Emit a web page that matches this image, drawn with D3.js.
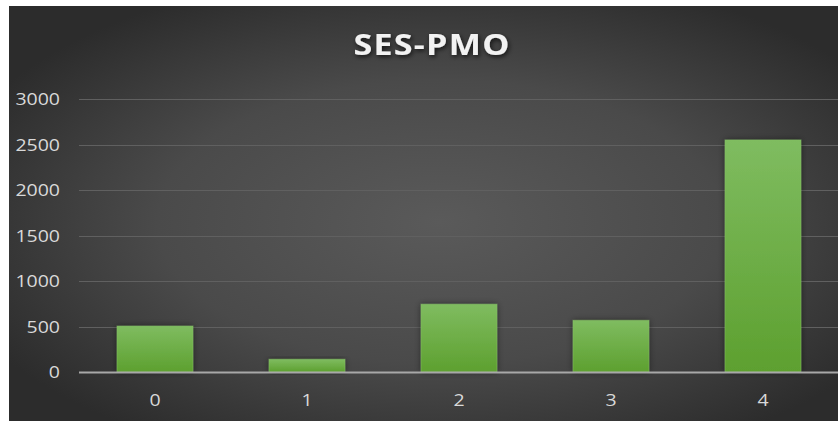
<!DOCTYPE html>
<html>
<head>
<meta charset="utf-8">
<script src="https://cdn.jsdelivr.net/npm/d3@7/dist/d3.min.js"></script>
<style>
  html, body { margin: 0; padding: 0; background: #ffffff; }
  svg { display: block; }
</style>
</head>
<body>
<svg id="chart" width="838" height="423"></svg>
<script>
// SES-PMO counts per category
const categories = ["0", "1", "2", "3", "4"];
const counts = [505, 140, 745, 568, 2550];
const yTicks = [0, 500, 1000, 1500, 2000, 2500, 3000];
const chartTitle = "SES-PMO";

const W = 838, H = 423;
const frame = { x: 9, y: 6, w: W - 9, h: H - 8 };
const plot = { left: 79, right: 839, top: 99, bottom: 372 };
const stretch = 1.22; // horizontal stretch of the lettering

const svg = d3.select("#chart");
const defs = svg.append("defs");

const bg = defs.append("radialGradient").attr("id", "bg")
  .attr("cx", "52%").attr("cy", "52%").attr("r", "62%");
bg.append("stop").attr("offset", "0%").attr("stop-color", "#5a5a5a");
bg.append("stop").attr("offset", "55%").attr("stop-color", "#4a4a4a");
bg.append("stop").attr("offset", "100%").attr("stop-color", "#2c2c2c");

const barFill = defs.append("linearGradient").attr("id", "barFill")
  .attr("x1", 0).attr("y1", 0).attr("x2", 0).attr("y2", 1);
barFill.append("stop").attr("offset", "0%").attr("stop-color", "#7fbc60");
barFill.append("stop").attr("offset", "100%").attr("stop-color", "#5da02f");

const barShadow = defs.append("filter").attr("id", "barShadow")
  .attr("x", "-20%").attr("y", "-20%").attr("width", "140%").attr("height", "140%");
barShadow.append("feDropShadow").attr("dx", 0).attr("dy", 0)
  .attr("stdDeviation", 3).attr("flood-color", "#000").attr("flood-opacity", 0.45);

const titleShadow = defs.append("filter").attr("id", "titleShadow")
  .attr("x", "-20%").attr("y", "-40%").attr("width", "140%").attr("height", "180%");
titleShadow.append("feDropShadow").attr("dx", 1).attr("dy", 2)
  .attr("stdDeviation", 2).attr("flood-color", "#000").attr("flood-opacity", 0.7);

// background panel
svg.append("rect")
  .attr("x", frame.x).attr("y", frame.y)
  .attr("width", frame.w).attr("height", frame.h)
  .attr("fill", "url(#bg)");

// scales
const x = d3.scaleBand().domain(categories)
  .range([plot.left, plot.right]).paddingInner(0.5).paddingOuter(0.25);
const y = d3.scaleLinear().domain([0, 3000]).range([plot.bottom, plot.top]);

// gridlines
svg.append("g")
  .selectAll("line")
  .data(yTicks.filter(d => d > 0))
  .join("line")
  .attr("x1", plot.left).attr("x2", W)
  .attr("y1", d => Math.round(y(d)) + 0.5).attr("y2", d => Math.round(y(d)) + 0.5)
  .attr("stroke", "#606060").attr("stroke-width", 1.2);

// bars
svg.append("g")
  .selectAll("rect")
  .data(counts)
  .join("rect")
  .attr("x", (d, i) => x(categories[i]))
  .attr("y", d => y(d))
  .attr("width", x.bandwidth())
  .attr("height", d => y(0) - y(d))
  .attr("fill", "url(#barFill)")
  .attr("stroke", "#86c265").attr("stroke-opacity", 0.6).attr("stroke-width", 0.8)
  .attr("filter", "url(#barShadow)");

// baseline
svg.append("line")
  .attr("x1", plot.left).attr("x2", W)
  .attr("y1", y(0) + 0.5).attr("y2", y(0) + 0.5)
  .attr("stroke", "#a8a8a8").attr("stroke-width", 2);

const tickFont = "'Open Sans', 'DejaVu Sans', sans-serif";

// y axis
const yAxis = svg.append("g")
  .attr("transform", `translate(${plot.left},0)`)
  .call(d3.axisLeft(y).tickValues(yTicks).tickFormat(d3.format("d")).tickSize(0).tickPadding(0));
yAxis.select(".domain").remove();
yAxis.selectAll("text")
  .attr("x", 0).attr("dy", "0.36em")
  .attr("transform", `translate(-19,0) scale(${stretch},1)`)
  .attr("fill", "#d9d9d9")
  .style("font-family", tickFont).style("font-size", "16px");

// x axis
const xAxis = svg.append("g")
  .attr("transform", `translate(0,${plot.bottom})`)
  .call(d3.axisBottom(x).tickSize(0).tickPadding(0));
xAxis.select(".domain").remove();
xAxis.selectAll("text")
  .attr("y", 0).attr("dy", 0)
  .attr("transform", `translate(0,34) scale(${stretch},1)`)
  .attr("fill", "#d9d9d9")
  .style("font-family", tickFont).style("font-size", "16px");

// title
svg.append("text")
  .attr("transform", `translate(432,55) scale(${stretch},1)`)
  .attr("text-anchor", "middle")
  .attr("fill", "#f2f2f2")
  .attr("filter", "url(#titleShadow)")
  .style("font-family", tickFont).style("font-weight", 700)
  .style("font-size", "28px").style("letter-spacing", "1px")
  .text(chartTitle);
</script>
</body>
</html>
